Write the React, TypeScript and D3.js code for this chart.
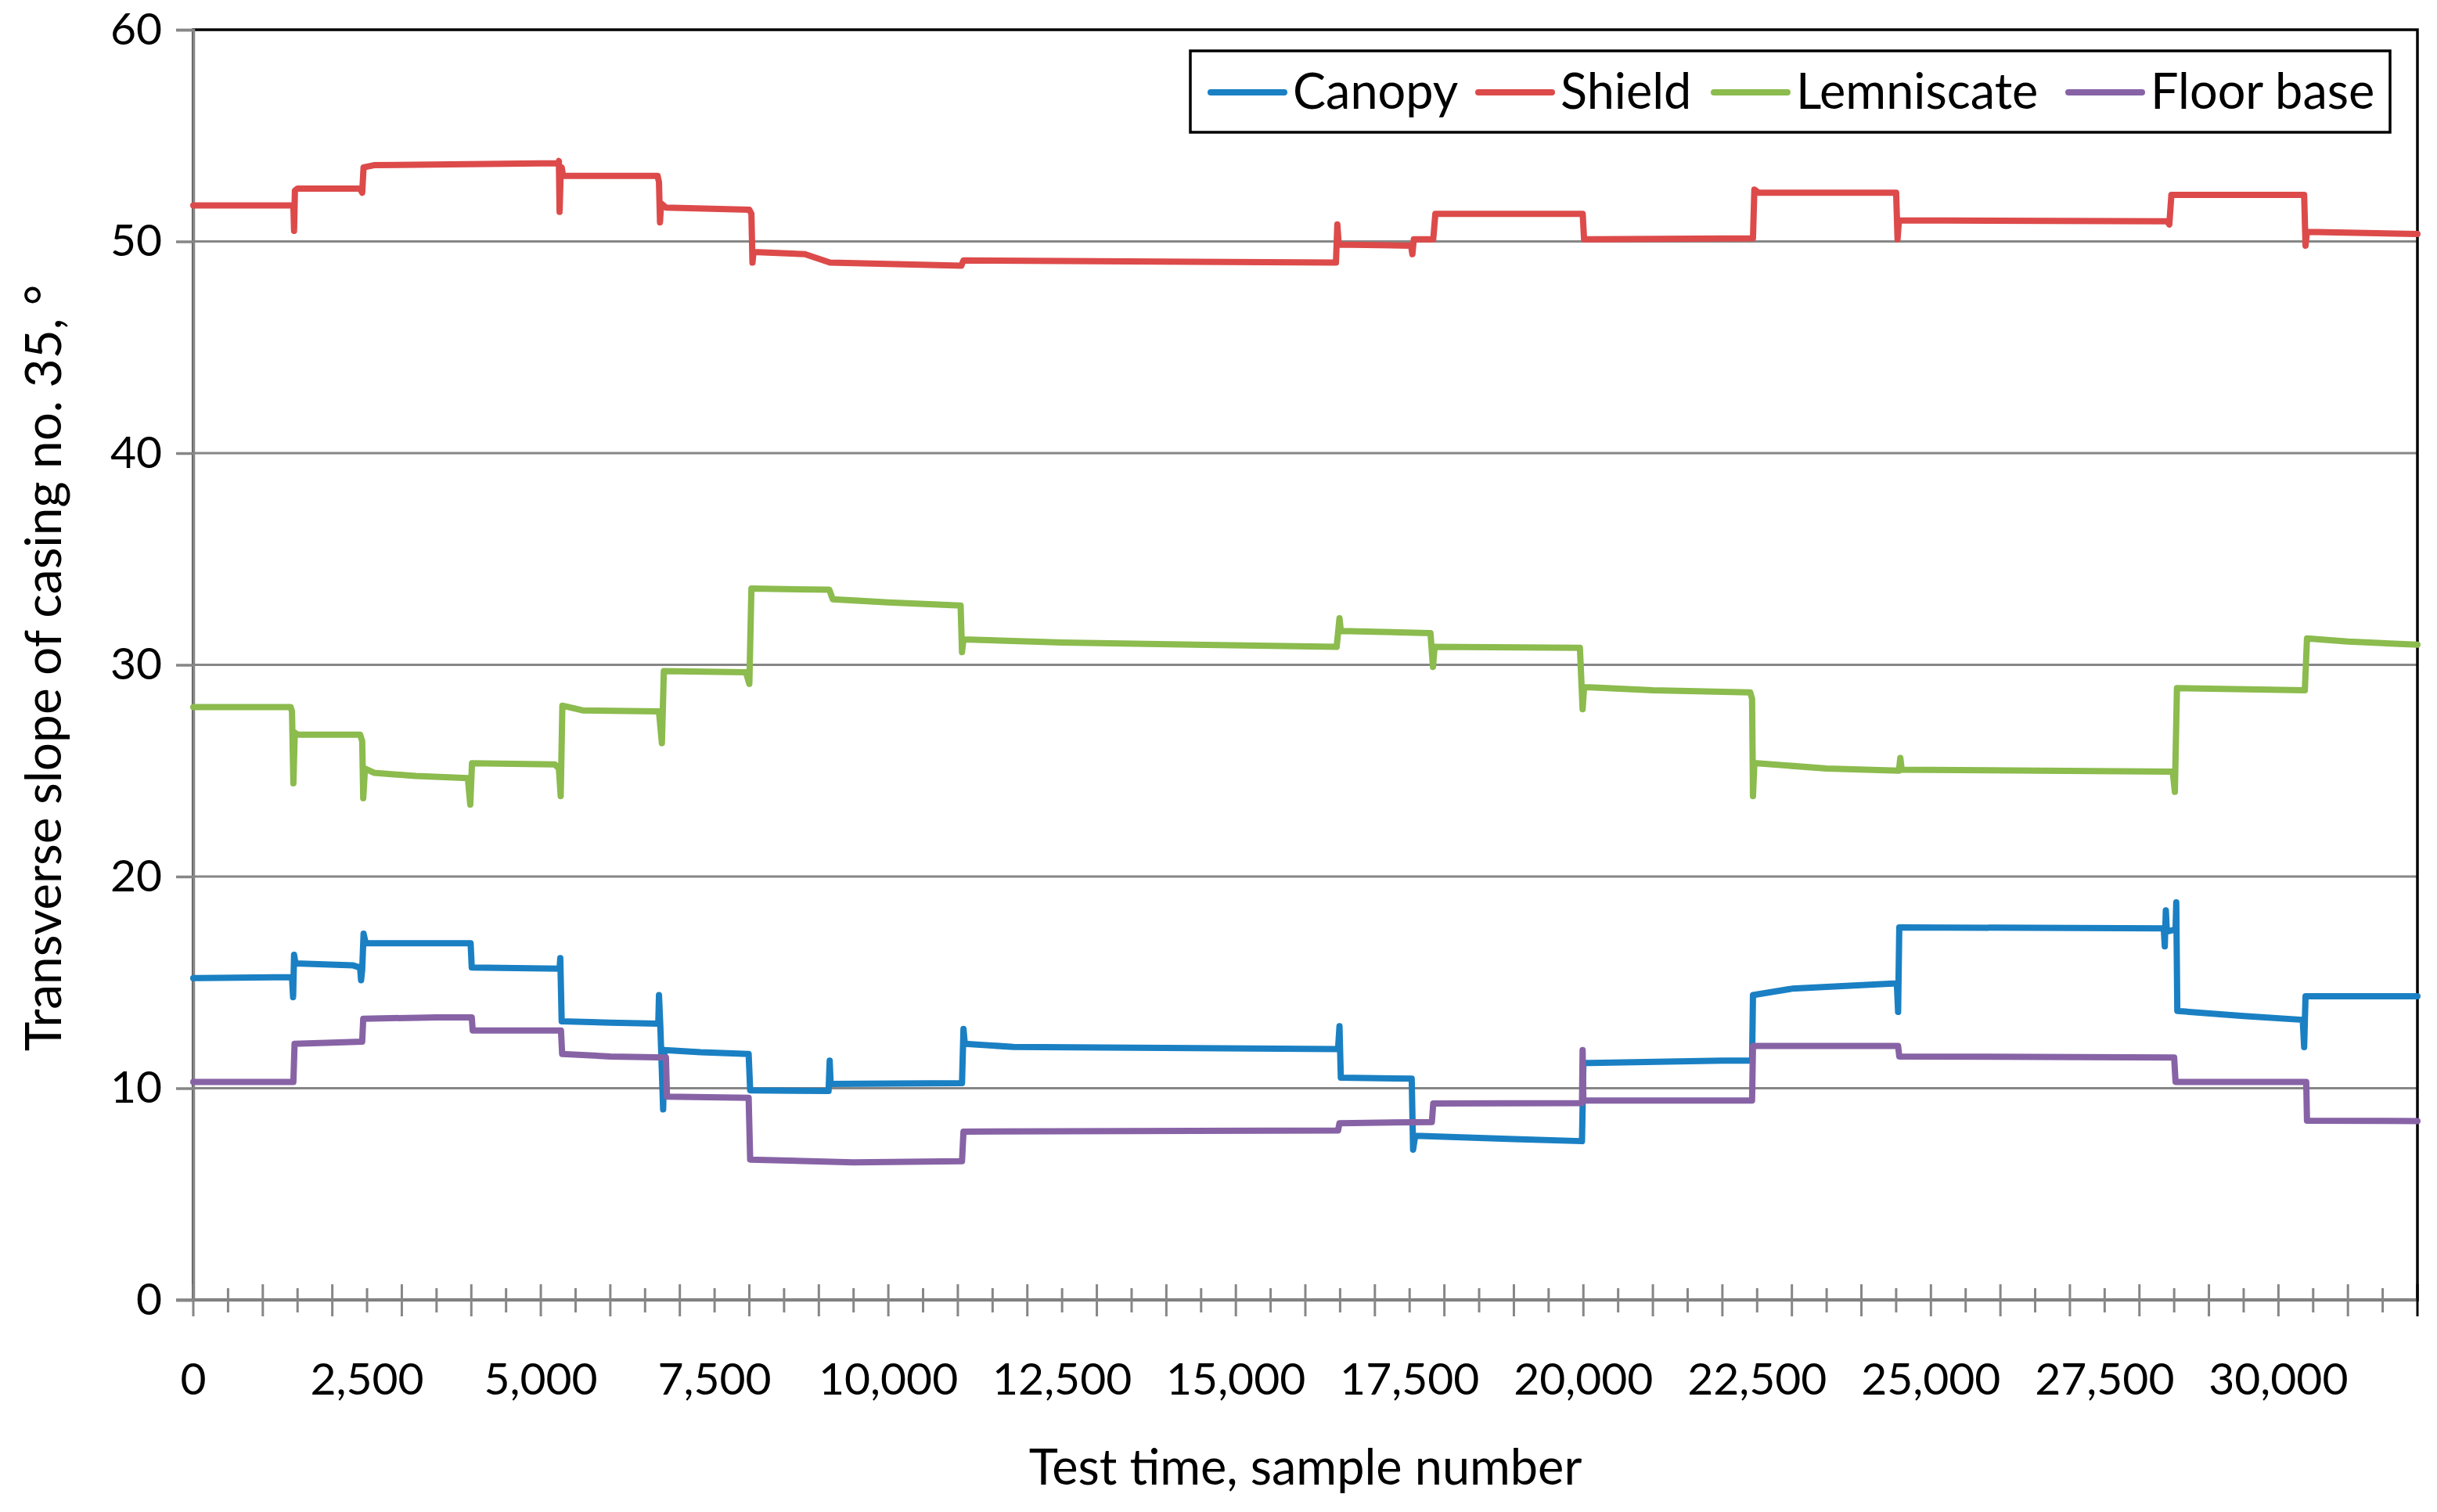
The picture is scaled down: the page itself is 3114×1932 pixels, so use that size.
import { useEffect, useRef } from 'react';
import * as d3 from 'd3';

const W = 3114;
const H = 1932;
const [mt, mr, mb, ml] = [38, 25, 271, 247];
const innerW = W - ml - mr;
const innerH = H - mt - mb;

type Pt = [number, number];

// sample number, slope in degrees
const canopy: Pt[] = [
    [0, 15.2], [1420, 15.25], [1436, 14.3], [1450, 16.3], [1470, 15.9], [2300, 15.8], [2400, 15.7],
    [2414, 15.1], [2430, 15.6], [2450, 17.3], [2480, 16.85], [3990, 16.85], [4006, 15.7], [5270, 15.65],
    [5280, 16.15], [5300, 13.16], [6000, 13.1], [6690, 13.05], [6700, 14.4], [6720, 12.9], [6760, 9.0],
    [6780, 11.8], [7300, 11.7], [7990, 11.62], [8012, 9.9], [9140, 9.87], [9156, 11.3], [9170, 10.2],
    [11060, 10.24], [11081, 12.8], [11100, 12.1], [11800, 11.95], [16470, 11.85], [16491, 12.93],
    [16510, 10.5], [17530, 10.45], [17550, 7.1], [17580, 7.75], [19000, 7.6], [19980, 7.5], [20000, 11.19],
    [22000, 11.3], [22427, 11.3], [22440, 14.4], [23000, 14.7], [24510, 14.95], [24528, 13.6],
    [24545, 17.6], [28350, 17.55], [28365, 16.7], [28380, 18.4], [28395, 17.4], [28520, 17.5],
    [28530, 18.78], [28545, 13.65], [29500, 13.41], [30350, 13.23], [30370, 11.94], [30390, 14.34],
    [32000, 14.34]
];

const shield: Pt[] = [
    [0, 51.7], [1440, 51.7], [1450, 50.5], [1462, 52.4], [1500, 52.5], [2400, 52.5], [2430, 52.3],
    [2450, 53.5], [2600, 53.6], [5250, 53.7], [5260, 53.8], [5270, 51.4], [5285, 53.2], [5300, 53.5],
    [5320, 53.1], [6680, 53.1], [6700, 52.8], [6715, 50.9], [6730, 51.8], [6800, 51.6], [8000, 51.5],
    [8030, 51.3], [8045, 49.0], [8060, 49.5], [8800, 49.4], [9160, 49.0], [11050, 48.85], [11080, 49.1],
    [16440, 49.0], [16460, 50.8], [16480, 49.85], [17520, 49.8], [17540, 49.4], [17560, 50.1],
    [17840, 50.1], [17870, 51.3], [19990, 51.3], [20010, 50.1], [22440, 50.15], [22460, 52.45],
    [22520, 52.3], [24500, 52.3], [24520, 50.1], [24540, 51.0], [28400, 50.95], [28430, 50.8],
    [28460, 52.2], [30370, 52.2], [30390, 49.8], [30410, 50.45], [32000, 50.35]
];

const lemniscate: Pt[] = [
    [0, 28.0], [1400, 28.0], [1420, 27.8], [1440, 24.4], [1460, 26.8], [1500, 26.7], [2400, 26.7],
    [2430, 26.4], [2445, 23.7], [2470, 25.1], [2600, 24.9], [3200, 24.75], [3950, 24.65], [3985, 23.4],
    [4010, 25.35], [5200, 25.3], [5260, 25.1], [5286, 23.8], [5310, 28.07], [5600, 27.85], [6700, 27.8],
    [6742, 26.3], [6770, 29.7], [7950, 29.65], [8000, 29.1], [8030, 33.6], [9150, 33.55], [9200, 33.1],
    [10000, 32.95], [11040, 32.8], [11060, 30.6], [11080, 31.2], [12500, 31.05], [16450, 30.85],
    [16491, 32.2], [16510, 31.6], [17800, 31.5], [17836, 29.9], [17860, 30.85], [19950, 30.8],
    [19989, 27.9], [20010, 28.95], [21000, 28.8], [22400, 28.7], [22427, 28.4], [22440, 23.8],
    [22460, 25.36], [23500, 25.1], [24540, 25.0], [24560, 25.6], [24580, 25.05], [28480, 24.95],
    [28510, 24.0], [28540, 28.9], [30380, 28.8], [30411, 31.25], [31000, 31.1], [32000, 30.95]
];

const floorBase: Pt[] = [
    [0, 10.3], [1440, 10.3], [1457, 12.1], [2000, 12.15], [2430, 12.2], [2445, 13.28], [3500, 13.35],
    [4006, 13.35], [4020, 12.73], [5290, 12.73], [5307, 11.62], [6000, 11.5], [6800, 11.45],
    [6815, 9.6], [7990, 9.55], [8012, 6.63], [9500, 6.5], [11060, 6.55], [11081, 7.95], [16470, 8.0],
    [16491, 8.35], [17820, 8.4], [17840, 9.28], [19980, 9.3], [19989, 11.8], [20000, 9.42],
    [22427, 9.42], [22440, 12.0], [24528, 12.0], [24545, 11.5], [28500, 11.45], [28520, 10.3],
    [30400, 10.3], [30411, 8.47], [32000, 8.45]
];

const seriesNames = ['Canopy', 'Shield', 'Lemniscate', 'Floor base'];
const seriesData = [canopy, shield, lemniscate, floorBase];
const seriesColors = ['#1a80c3', '#dd4a4a', '#8cbb4e', '#8763a6'];

const yTicks = [0, 10, 20, 30, 40, 50, 60];
const xLabelTicks = [0, 2500, 5000, 7500, 10000, 12500, 15000, 17500, 20000, 22500, 25000, 27500, 30000];
const xMax = 32000;

const font = "Lato, 'Open Sans', sans-serif";
const gray = '#868686';

export default function App() {
    const ref = useRef<SVGSVGElement>(null);

    useEffect(() => {
        const svg = d3.select(ref.current);
        svg.selectAll('*').remove();

        const x = d3.scaleLinear().domain([0, xMax]).range([0, innerW]);
        const y = d3.scaleLinear().domain([0, 60]).range([innerH, 0]);

        const g = svg.append('g').attr('transform', `translate(${ml},${mt})`);

        // gridlines
        g.append('g')
            .selectAll('line')
            .data(yTicks.filter((d) => d > 0 && d < 60))
            .join('line')
            .attr('x1', 0)
            .attr('x2', innerW)
            .attr('y1', (d) => y(d))
            .attr('y2', (d) => y(d))
            .attr('stroke', gray)
            .attr('stroke-width', 3);

        // plot border (top/right black)
        g.append('rect')
            .attr('x', 0)
            .attr('y', 0)
            .attr('width', innerW)
            .attr('height', innerH)
            .attr('fill', 'none')
            .attr('stroke', '#000')
            .attr('stroke-width', 3.5);

        // y axis
        const yAxis = d3
            .axisLeft(y)
            .tickValues(yTicks)
            .tickSize(22)
            .tickPadding(18)
            .tickFormat(d3.format('d'));
        g.append('g')
            .call(yAxis)
            .call((s) => s.select('.domain').attr('stroke', gray).attr('stroke-width', 3.5))
            .call((s) => s.selectAll('.tick line').attr('stroke', gray).attr('stroke-width', 3.5))
            .call((s) =>
                s.selectAll('.tick text').attr('font-family', font).attr('font-size', 57).attr('fill', '#000')
            );

        // x axis: cross ticks, major every 1000, minor every 500
        const major = d3.range(0, xMax + 1, 1000);
        const minor = d3.range(500, xMax, 1000);
        const xg = g.append('g').attr('transform', `translate(0,${innerH})`);
        xg.append('line')
            .attr('x1', -22)
            .attr('x2', innerW)
            .attr('y1', 0)
            .attr('y2', 0)
            .attr('stroke', gray)
            .attr('stroke-width', 3.5);
        xg.selectAll('line.major')
            .data(major)
            .join('line')
            .attr('class', 'major')
            .attr('x1', (d) => x(d))
            .attr('x2', (d) => x(d))
            .attr('y1', -20)
            .attr('y2', 21)
            .attr('stroke', (d) => (d === xMax ? '#000' : gray))
            .attr('stroke-width', 3);
        xg.selectAll('line.minor')
            .data(minor)
            .join('line')
            .attr('class', 'minor')
            .attr('x1', (d) => x(d))
            .attr('x2', (d) => x(d))
            .attr('y1', -15)
            .attr('y2', 16)
            .attr('stroke', gray)
            .attr('stroke-width', 3);
        xg.selectAll('text')
            .data(xLabelTicks)
            .join('text')
            .attr('x', (d) => x(d))
            .attr('y', 121)
            .attr('text-anchor', 'middle')
            .attr('font-family', font)
            .attr('font-size', 57)
            .text((d) => d3.format(',')(d));

        // lines
        const line = d3
            .line<Pt>()
            .x((d) => x(d[0]))
            .y((d) => y(d[1]));

        g.append('g')
            .selectAll('path')
            .data(seriesData)
            .join('path')
            .attr('d', (d) => line(d))
            .attr('fill', 'none')
            .attr('stroke', (_d, i) => seriesColors[i])
            .attr('stroke-width', 8)
            .attr('stroke-linejoin', 'round')
            .attr('stroke-linecap', 'round');

        // legend
        const legendItemX = [1547, 1889, 2190, 2643];
        const lg = svg.append('g');
        lg.append('rect')
            .attr('x', 1521)
            .attr('y', 65)
            .attr('width', 1533)
            .attr('height', 104)
            .attr('fill', '#fff')
            .attr('stroke', '#000')
            .attr('stroke-width', 3.5);
        const items = lg
            .selectAll('g')
            .data(seriesNames)
            .join('g')
            .attr('transform', (_d, i) => `translate(${legendItemX[i]},118)`);
        items
            .append('line')
            .attr('x1', 0)
            .attr('x2', 94)
            .attr('stroke', (_d, i) => seriesColors[i])
            .attr('stroke-width', 8)
            .attr('stroke-linecap', 'round');
        items
            .append('text')
            .attr('x', 105)
            .attr('y', 21)
            .attr('font-family', font)
            .attr('font-size', 63)
            .text((d) => d);

        // axis titles
        svg.append('text')
            .attr('x', ml + innerW / 2)
            .attr('y', 1897)
            .attr('text-anchor', 'middle')
            .attr('font-family', font)
            .attr('font-size', 63)
            .text('Test time, sample number');

        svg.append('text')
            .attr('transform', `translate(78,${mt + innerH / 2 + 4}) rotate(-90)`)
            .attr('text-anchor', 'middle')
            .attr('font-family', font)
            .attr('font-size', 64)
            .text('Transverse slope of casing no. 35, °');
    }, []);

    return (
        <svg
            ref={ref}
            width={W}
            height={H}
            style={{ position: 'absolute', left: 0, top: 0, background: '#fff' }}
        />
    );
}
